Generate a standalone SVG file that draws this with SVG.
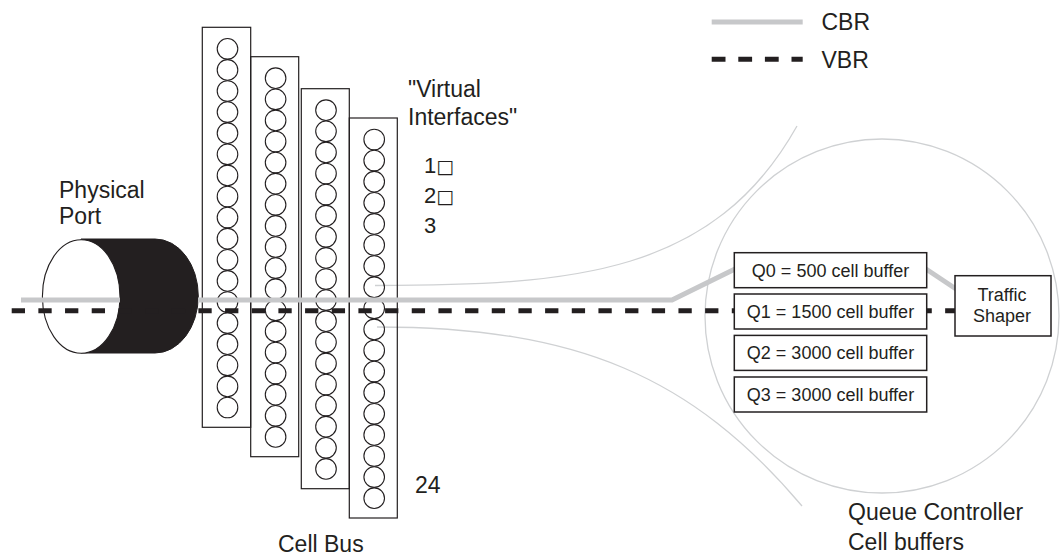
<svg xmlns="http://www.w3.org/2000/svg" xmlns:xlink="http://www.w3.org/1999/xlink" width="1063" height="556" viewBox="0 0 1063 556">
  <style>
    text { font-family: "Liberation Sans", Arial, "DejaVu Sans", sans-serif; fill: #231f20; }
    .lbl { font-size: 23px; }
    .num { font-size: 22px; }
    .sq { font-family: "DejaVu Sans", sans-serif; font-size: 19px; }
    .q { font-size: 18px; text-anchor: middle; }
    .panel { fill: none; stroke: #231f20; stroke-width: 1.2; }
    .cell { fill: none; stroke: #231f20; stroke-width: 1.1; }
    .box { fill: #ffffff; stroke: #231f20; stroke-width: 1.5; }
    .thin { fill: none; stroke: #cfd1d3; stroke-width: 1.3; }
    .cbr { fill: none; stroke: #c7c8ca; stroke-width: 5; stroke-linejoin: round; }
    .vbr { fill: none; stroke: #231f20; stroke-width: 5; stroke-dasharray: 13.3 13.37; }
  </style>
  <defs>
    <!-- one column of 18 cell slots, origin at the panel's top centre -->
    <g id="cells">
      <circle class="cell" cx="0" cy="21.5" r="10.3"/>
      <circle class="cell" cx="0" cy="42.6" r="10.3"/>
      <circle class="cell" cx="0" cy="63.7" r="10.3"/>
      <circle class="cell" cx="0" cy="84.8" r="10.3"/>
      <circle class="cell" cx="0" cy="105.9" r="10.3"/>
      <circle class="cell" cx="0" cy="127" r="10.3"/>
      <circle class="cell" cx="0" cy="148.1" r="10.3"/>
      <circle class="cell" cx="0" cy="169.2" r="10.3"/>
      <circle class="cell" cx="0" cy="190.3" r="10.3"/>
      <circle class="cell" cx="0" cy="211.4" r="10.3"/>
      <circle class="cell" cx="0" cy="232.5" r="10.3"/>
      <circle class="cell" cx="0" cy="253.6" r="10.3"/>
      <circle class="cell" cx="0" cy="274.7" r="10.3"/>
      <circle class="cell" cx="0" cy="295.8" r="10.3"/>
      <circle class="cell" cx="0" cy="316.9" r="10.3"/>
      <circle class="cell" cx="0" cy="338" r="10.3"/>
      <circle class="cell" cx="0" cy="359.1" r="10.3"/>
      <circle class="cell" cx="0" cy="380.2" r="10.3"/>
    </g>
  </defs>

  <rect width="1063" height="556" fill="#ffffff"/>

  <!-- queue controller magnifier and its guide curves -->
  <g id="magnifier">
    <circle class="thin" cx="882" cy="316" r="177"/>
    <path class="thin" d="M375,285.5 C575,285.5 714,274 797,126"/>
    <path class="thin" d="M377,327 C577,327 692,376 802,506"/>
  </g>

  <!-- physical port cylinder -->
  <g id="physical-port">
    <path d="M81,239 H155 A43.3,57 0 0 1 155,353 H81 Z" fill="#231f20" stroke="#231f20" stroke-width="1"/>
    <ellipse cx="81.2" cy="296.5" rx="38.8" ry="56.8" fill="#ffffff" stroke="#231f20" stroke-width="1.1"/>
    <text class="lbl" x="59" y="198.3">Physical</text>
    <text class="lbl" x="59" y="224">Port</text>
  </g>

  <!-- cell bus panels -->
  <g id="panel-1">
    <rect class="panel" x="202.3" y="27.3" width="48.4" height="400"/>
    <use href="#cells" xlink:href="#cells" x="227.5" y="27.3"/>
  </g>
  <g id="panel-2">
    <rect class="panel" x="250.7" y="56.7" width="48" height="400"/>
    <use href="#cells" xlink:href="#cells" x="275.6" y="56.7"/>
  </g>
  <g id="panel-3">
    <rect class="panel" x="301.3" y="88.7" width="48" height="400"/>
    <use href="#cells" xlink:href="#cells" x="326" y="88.7"/>
  </g>
  <g id="panel-4">
    <rect class="panel" x="349.3" y="118" width="48" height="400"/>
    <use href="#cells" xlink:href="#cells" x="374.2" y="118"/>
  </g>

  <!-- traffic paths -->
  <g id="connectors">
    <path class="vbr" d="M11.7,310.7 H955"/>
    <path class="cbr" d="M21,300 H120"/>
    <path class="cbr" d="M198,300 H672 L735,269"/>
    <path class="cbr" d="M926,269 L956,289"/>
  </g>

  <!-- queue buffers -->
  <g id="q0">
    <rect class="box" x="734.3" y="252.7" width="192.4" height="35"/>
    <text class="q" x="830.5" y="276.7">Q0 = 500 cell buffer</text>
  </g>
  <g id="q1">
    <rect class="box" x="734.3" y="294" width="192.4" height="35"/>
    <text class="q" x="830.5" y="317.6">Q1 = 1500 cell buffer</text>
  </g>
  <g id="q2">
    <rect class="box" x="734.3" y="335.4" width="192.4" height="35"/>
    <text class="q" x="830.5" y="359.2">Q2 = 3000 cell buffer</text>
  </g>
  <g id="q3">
    <rect class="box" x="734.3" y="377" width="192.4" height="35"/>
    <text class="q" x="830.5" y="400.7">Q3 = 3000 cell buffer</text>
  </g>

  <g id="traffic-shaper">
    <rect class="box" x="955" y="275.7" width="96" height="60.3"/>
    <text class="q" x="1002" y="301">Traffic</text>
    <text class="q" x="1002" y="321.7">Shaper</text>
  </g>

  <!-- labels -->
  <g id="virtual-interfaces">
    <text class="lbl" x="408" y="96.7">"Virtual</text>
    <text class="lbl" x="408" y="125">Interfaces"</text>
    <text class="num" x="424" y="173.3">1<tspan class="sq">□</tspan></text>
    <text class="num" x="424" y="203.3">2<tspan class="sq">□</tspan></text>
    <text class="num" x="424" y="232.7">3</text>
    <text class="lbl" x="415" y="493.3">24</text>
  </g>
  <g id="cell-bus-label">
    <text class="lbl" x="278" y="551.5">Cell Bus</text>
  </g>
  <g id="queue-controller-label">
    <text class="lbl" x="848" y="520">Queue Controller</text>
    <text class="lbl" x="848" y="550">Cell buffers</text>
  </g>

  <!-- legend -->
  <g id="legend">
    <path class="cbr" d="M711.7,22 H802.7"/>
    <path class="vbr" d="M711.7,59.3 H802.7" style="stroke-dasharray: 13.8 12.8"/>
    <text class="lbl" x="821.5" y="30">CBR</text>
    <text class="lbl" x="821.5" y="67.7">VBR</text>
  </g>
</svg>
